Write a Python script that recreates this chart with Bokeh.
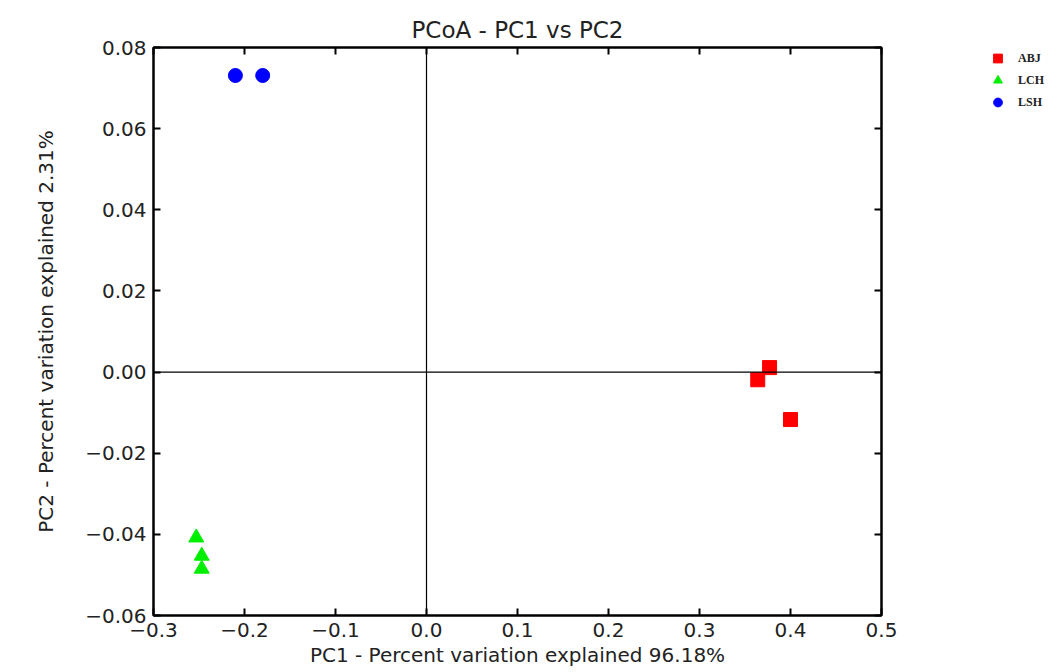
from bokeh.plotting import figure
from bokeh.layouts import row
from bokeh.models import (Range1d, LinearAxis, FixedTicker, Span, Legend, LegendItem)
from bokeh.embed import file_html
from bokeh.resources import INLINE

# Data
groups = ["ABJ", "LCH", "LSH"]
abj_pc1 = [0.364, 0.377, 0.400]
abj_pc2 = [-0.0019, 0.0011, -0.0117]
lch_pc1 = [-0.253, -0.247, -0.247]
lch_pc2 = [-0.0408, -0.0453, -0.0485]
lsh_pc1 = [-0.210, -0.180]
lsh_pc2 = [0.0731, 0.0731]

x_ticks = [-0.3, -0.2, -0.1, 0.0, 0.1, 0.2, 0.3, 0.4, 0.5]
x_tick_labels = ["\u22120.3", "\u22120.2", "\u22120.1", "0.0", "0.1", "0.2", "0.3", "0.4", "0.5"]
y_ticks = [-0.06, -0.04, -0.02, 0.0, 0.02, 0.04, 0.06, 0.08]
y_tick_labels = ["\u22120.06", "\u22120.04", "\u22120.02", "0.00", "0.02", "0.04", "0.06", "0.08"]

colors = ["#ff0000", "#00ee00", "#0000ff"]
markers = ["square", "triangle", "circle"]
series_x = [abj_pc1, lch_pc1, lsh_pc1]
series_y = [abj_pc2, lch_pc2, lsh_pc2]

FONT = "DejaVu Sans"

p = figure(width=960, height=670, output_backend="svg", toolbar_location=None,
           x_range=Range1d(-0.3, 0.5), y_range=Range1d(-0.06, 0.08),
           x_axis_location=None, y_axis_location=None,
           min_border_left=153, min_border_right=79, min_border_top=47, min_border_bottom=55,
           title="PCoA - PC1 vs PC2")
p.title.align = "center"
p.title.text_font = FONT
p.title.text_font_size = "23px"
p.title.text_font_style = "normal"
p.title.text_color = "#222222"
p.title.offset = 0
p.grid.visible = False
p.outline_line_color = "black"
p.outline_line_width = 2
p.background_fill_color = "white"
p.border_fill_color = "white"

def make_axis(ticks, labels, show_labels, label_text):
    ax = LinearAxis(ticker=FixedTicker(ticks=ticks))
    if show_labels:
        ax.major_label_overrides = {t: l for t, l in zip(ticks, labels)}
    else:
        ax.major_label_overrides = {t: "" for t in ticks}
    ax.major_tick_in = 7
    ax.major_tick_out = 0
    ax.minor_tick_in = 0
    ax.minor_tick_out = 0
    ax.major_tick_line_color = "black"
    ax.major_tick_line_width = 2
    ax.axis_line_color = "black"
    ax.axis_line_width = 2
    ax.major_label_text_font = FONT
    ax.major_label_text_font_size = "20px"
    ax.major_label_text_color = "#222222"
    ax.major_label_standoff = 7
    ax.axis_label_text_font = FONT
    ax.axis_label_text_font_size = "20px"
    ax.axis_label_text_font_style = "normal"
    ax.axis_label_text_color = "#222222"
    ax.axis_label_standoff = 3
    if label_text:
        ax.axis_label = label_text
    if not show_labels:
        ax.major_label_standoff = 0
    return ax

xb = make_axis(x_ticks, x_tick_labels, True, "PC1 - Percent variation explained 96.18%")
yl = make_axis(y_ticks, y_tick_labels, True, "PC2 - Percent variation explained 2.31%")
yl.axis_label_standoff = 24
p.add_layout(xb, "below")
p.add_layout(yl, "left")
p.add_layout(make_axis(x_ticks, x_tick_labels, False, None), "above")
p.add_layout(make_axis(y_ticks, y_tick_labels, False, None), "right")

p.add_layout(Span(location=0, dimension="width", line_color="black", line_width=1.2))
p.add_layout(Span(location=0, dimension="height", line_color="black", line_width=1.2))

sizes = [14, 15, 14]
for xs, ys, c, m, s in zip(series_x, series_y, colors, markers, sizes):
    p.scatter(xs, ys, marker=m, size=s, fill_color=c, line_color=c)

# Legend panel (separate small figure to the right of the plot)
pl = figure(width=92, height=670, output_backend="svg", toolbar_location=None,
            x_range=Range1d(0, 1), y_range=Range1d(0, 1),
            x_axis_location=None, y_axis_location=None, title_location=None,
            min_border_left=21, min_border_right=0, min_border_top=0, min_border_bottom=0)
pl.grid.visible = False
pl.outline_line_color = None
pl.background_fill_color = "white"
pl.border_fill_color = "white"
items = []
for g, xs, ys, c, m in zip(groups, series_x, series_y, colors, markers):
    r = pl.scatter(xs, ys, marker=m, size=14, fill_color=c, line_color=c)
    r.visible = False
    items.append(LegendItem(label=g, renderers=[r]))

legend = Legend(items=items, location="top_left")
legend.border_line_color = None
legend.background_fill_alpha = 0
legend.inactive_fill_alpha = 0
legend.label_text_font = "Liberation Serif"
legend.label_text_font_style = "bold"
legend.label_text_font_size = "12px"
legend.label_text_color = "#222222"
legend.glyph_width = 33
legend.glyph_height = 22
legend.label_height = 22
legend.spacing = 0
legend.padding = 0
legend.margin = 0
legend.label_standoff = 4
pl.add_layout(legend, "center")

layout = row(p, pl, spacing=0)
open("out.html", "w").write(file_html(layout, INLINE))
